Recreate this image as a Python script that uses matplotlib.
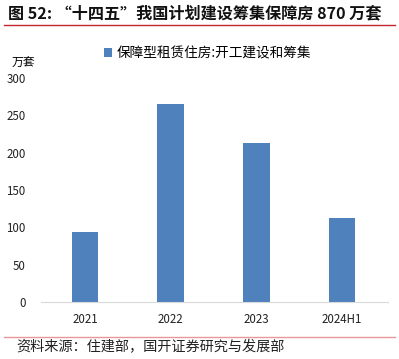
import matplotlib.pyplot as plt
import numpy as np

plt.rcParams['font.family'] = ['Noto Sans CJK SC', 'DejaVu Sans']

categorias = ["2021", "2022", "2023", "2024H1"]
valores = [94, 265, 213, 113]
ticks_y = [0, 50, 100, 150, 200, 250, 300]

titulo = "图 52: “十四五”我国计划建设筹集保障房 870 万套"
legenda = "保障型租赁住房:开工建设和筹集"
unidade = "万套"
fonte = "资料来源：住建部，国开证券研究与发展部"

W, H = 399, 359
fig = plt.figure(figsize=(W / 100, H / 100), dpi=100)

ax = fig.add_axes([41 / W, 1 - 302 / H, (388 - 41) / W, (302 - 78) / H])
x = np.arange(len(categorias))
ax.bar(x, valores, width=0.31, color="#4F81BD", label=legenda)
ax.set_xlim(-0.514, 3.537)
ax.set_ylim(0, 300)
ax.set_yticks(ticks_y)
ax.set_xticks(x)
ax.set_xticklabels(categorias)
for lado in ["top", "right", "left"]:
    ax.spines[lado].set_visible(False)
ax.spines["bottom"].set_color("#D9D9D9")
ax.tick_params(axis="both", length=0, labelsize=8.3, colors="#222222")
ax.tick_params(axis="y", pad=11)
ax.tick_params(axis="x", pad=8)

fig.text(8 / W, 1 - 13 / H, titulo, fontsize=11.6, fontweight="bold",
         va="center", ha="left", color="#111111")
fig.add_artist(plt.Line2D([4 / W, 395 / W], [1 - 25 / H, 1 - 25 / H],
                          color="#C0262C", linewidth=1.0))

fig.text(12 / W, 1 - 63 / H, unidade, fontsize=8.5, va="center", ha="left")
fig.legend(loc="center left", bbox_to_anchor=(104 / W, 1 - 53 / H),
           frameon=False, fontsize=9.8, handlelength=0.6, handleheight=0.6,
           handletextpad=0.3, borderaxespad=0, borderpad=0)

fig.add_artist(plt.Line2D([4 / W, 395 / W], [1 - 337 / H, 1 - 337 / H],
                          color="#E8969A", linewidth=1.0))
fig.text(16 / W, 1 - 347 / H, fonte, fontsize=10.2, va="center", ha="left",
         color="#222222")

fig.savefig("out.png", dpi=100)
